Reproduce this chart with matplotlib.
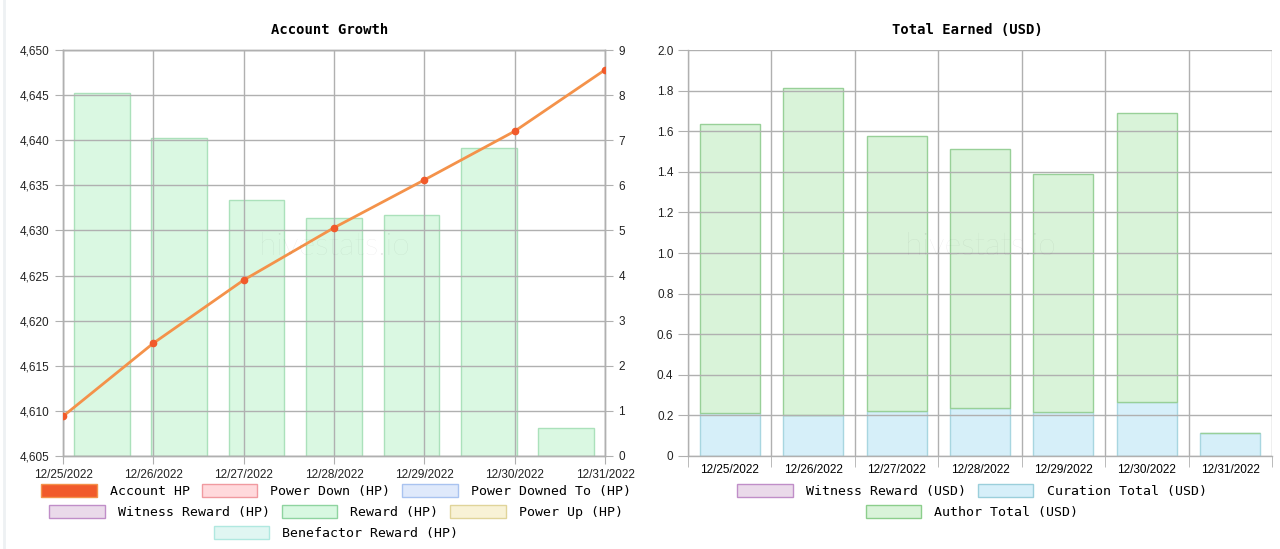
import matplotlib
matplotlib.use("Agg")
import matplotlib.pyplot as plt
import matplotlib.dates as mdates
from matplotlib.patches import Patch
from matplotlib.lines import Line2D
import numpy as np
import pandas as pd

# ---- data ----
dates = ["12/25/2022", "12/26/2022", "12/27/2022", "12/28/2022",
         "12/29/2022", "12/30/2022", "12/31/2022"]
account_hp = [4609.4, 4617.5, 4624.5, 4630.3, 4635.6, 4641.0, 4647.8]
reward_hp = [8.05, 7.05, 5.68, 5.28, 5.34, 6.83, 0.62]

curation_usd = [0.212, 0.202, 0.222, 0.236, 0.217, 0.266, 0.113]
author_usd = [1.423, 1.611, 1.354, 1.276, 1.172, 1.424, 0.0]
witness_usd = [0, 0, 0, 0, 0, 0, 0]

left_legend_rows = [
    ["Account HP", "Power Down (HP)", "Power Downed To (HP)"],
    ["Witness Reward (HP)", "Reward (HP)", "Power Up (HP)"],
    ["Benefactor Reward (HP)"],
]
right_legend_rows = [
    ["Witness Reward (USD)", "Curation Total (USD)"],
    ["Author Total (USD)"],
]

# ---- styles ----
swatch = {
    "Account HP": ("#f15a2b", "#f4924a"),
    "Power Down (HP)": ("#ffd9dc", "#f09aa0"),
    "Power Downed To (HP)": ("#dfe9fb", "#a9c3f0"),
    "Witness Reward (HP)": ("#eadaea", "#c08ec8"),
    "Reward (HP)": ("#d8f8e1", "#8fd4a0"),
    "Power Up (HP)": ("#f8f2d6", "#e0d49a"),
    "Benefactor Reward (HP)": ("#e0f6f2", "#b0e8e0"),
    "Witness Reward (USD)": ("#eadaea", "#c08ec8"),
    "Curation Total (USD)": ("#d6eff9", "#9bcfdb"),
    "Author Total (USD)": ("#d9f3d9", "#8cce8c"),
}

GRID = "#b0b0b0"
TICKFONT = {"family": "Liberation Sans", "size": 8.5}
MONO = "DejaVu Sans Mono"

W, H = 1280, 549
fig = plt.figure(figsize=(W / 100, H / 100), dpi=100)
fig.patch.set_facecolor("white")
# faint card border on the left edge
fig.add_artist(Line2D([4 / W, 4 / W], [0, 1], color="#eef1f3", linewidth=2))


def rect(x0, y0, x1, y1):
    return [x0 / W, 1 - y1 / H, (x1 - x0) / W, (y1 - y0) / H]


def style_spines(a):
    for s in a.spines.values():
        s.set_color(GRID)
        s.set_linewidth(1)


def watermark(a):
    a.text(0.5, 0.515, "hivestats.io", transform=a.transAxes, ha="center",
           va="center", fontsize=23, color="#000000", alpha=0.09,
           family="Lato", fontweight="light", zorder=10)


# ================= left chart =================
r = rect(63, 50, 605, 456)
axb = fig.add_axes(r)  # bars, categorical, right axis
ax = fig.add_axes(r)   # line, date axis, left axis
axb.set_zorder(1)
ax.set_zorder(2)
ax.patch.set_alpha(0)

xpos = np.arange(len(dates)) + 0.5
axb.bar(xpos, reward_hp, width=0.72, color="#d8f8e1", edgecolor="#a8e0b8",
        linewidth=1, alpha=0.95)
axb.set_xlim(0, len(dates))
axb.set_ylim(0, 9)
axb.set_xticks([])
axb.yaxis.tick_right()
axb.set_yticks(range(0, 10))
axb.tick_params(axis="y", colors=GRID, labelcolor="#222", length=6)
for lbl in axb.get_yticklabels():
    lbl.set_fontproperties(TICKFONT)
style_spines(axb)

d = pd.to_datetime(dates, format="%m/%d/%Y")
ax.plot(d, account_hp, color="#f4924a", linewidth=2, zorder=3)
ax.plot(d, account_hp, linestyle="none", marker="o", markersize=4.5,
        color="#f15a2b", zorder=4)
ax.set_xlim(d[0], d[-1])
ax.set_ylim(4605, 4650)
ax.set_yticks(np.arange(4605, 4651, 5))
ax.set_yticklabels([f"{v:,}" for v in range(4605, 4651, 5)])
ax.xaxis.set_major_locator(mdates.DayLocator())
ax.xaxis.set_major_formatter(mdates.DateFormatter("%m/%d/%Y"))
ax.grid(True, color=GRID, linewidth=1)
ax.set_axisbelow(True)
ax.tick_params(colors=GRID, labelcolor="#222", length=6)
ax.tick_params(axis="x", pad=3)
for lbl in ax.get_xticklabels() + ax.get_yticklabels():
    lbl.set_fontproperties(TICKFONT)
style_spines(ax)
watermark(ax)
fig.text(330 / W, 1 - 30 / H, "Account Growth", ha="center", va="center",
         family=MONO, weight="bold", fontsize=10)

# ================= right chart =================
ax2 = fig.add_axes(rect(688, 50, 1272, 456))
x2 = np.arange(len(dates))
bottoms = np.array(witness_usd, dtype=float)
ax2.bar(x2, witness_usd, width=0.72, bottom=0, color="#eadaea",
        edgecolor="#c08ec8", linewidth=1)
ax2.bar(x2, curation_usd, width=0.72, bottom=bottoms, color="#d6eff9",
        edgecolor="#a8d6e0", linewidth=1)
bottoms = bottoms + np.array(curation_usd)
ax2.bar(x2, author_usd, width=0.72, bottom=bottoms, color="#d9f3d9",
        edgecolor="#98d098", linewidth=1)
ax2.set_xlim(-0.5, len(dates) - 0.5)
ax2.set_ylim(0, 2.0)
ax2.set_yticks(np.arange(0, 2.01, 0.2))
ax2.set_yticklabels(["0"] + [f"{v:.1f}" for v in np.arange(0.2, 2.01, 0.2)])
ax2.set_xticks(x2)
ax2.set_xticklabels(dates)
ax2.set_xticks(np.arange(-0.5, len(dates), 1), minor=True)
ax2.tick_params(axis="x", which="major", length=0, pad=6)
ax2.tick_params(axis="x", which="minor", length=8, color=GRID)
ax2.tick_params(axis="y", colors=GRID, labelcolor="#222", length=7)
ax2.grid(True, axis="y", color=GRID, linewidth=1)
ax2.grid(True, axis="x", which="minor", color=GRID, linewidth=1)
ax2.set_axisbelow(False)
for lbl in ax2.get_xticklabels() + ax2.get_yticklabels():
    lbl.set_fontproperties(TICKFONT)
style_spines(ax2)
ax2.spines["right"].set_visible(False)
ax2.spines["top"].set_visible(False)
watermark(ax2)
fig.text(967 / W, 1 - 30 / H, "Total Earned (USD)", ha="center",
         va="center", family=MONO, weight="bold", fontsize=10)


# ================= legends (one per row, centred) =================
def legend_row(labels, cx, cy):
    handles = []
    for lab in labels:
        fc, ec = swatch[lab]
        handles.append(Patch(facecolor=fc, edgecolor=ec, linewidth=1, label=lab))
    leg = fig.legend(handles=handles, loc="center", ncol=len(labels),
                     bbox_to_anchor=(cx / W, 1 - cy / H), frameon=False,
                     prop={"family": MONO, "size": 9.5}, handlelength=4.2,
                     handleheight=1.15, handletextpad=1.0, columnspacing=0.9,
                     borderpad=0)
    return leg


for i, row in enumerate(left_legend_rows):
    legend_row(row, 336, 491 + i * 21)
for i, row in enumerate(right_legend_rows):
    legend_row(row, 972, 491 + i * 21)

fig.savefig("out.png", dpi=100)
